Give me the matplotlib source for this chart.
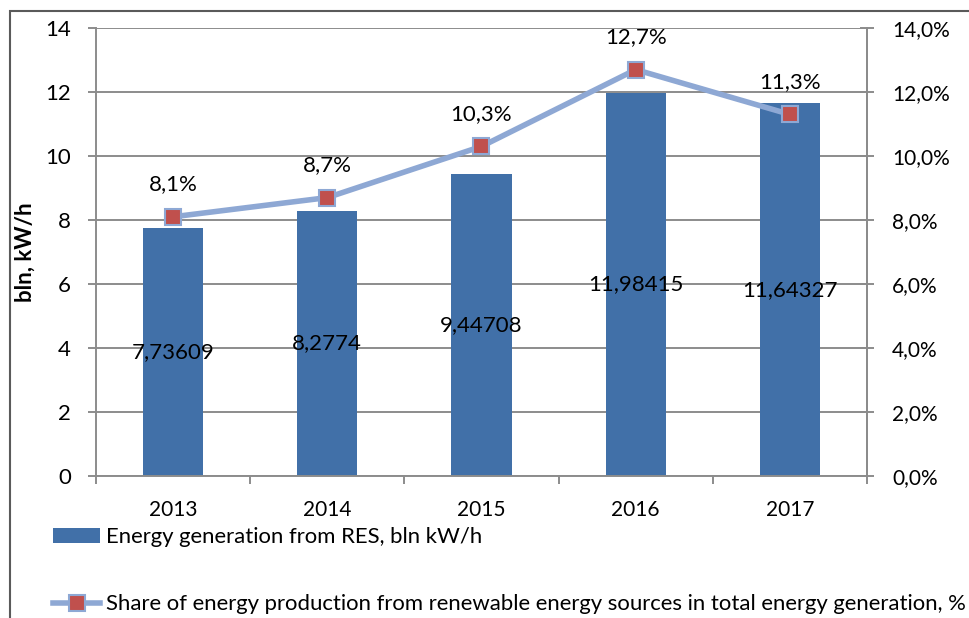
import matplotlib
matplotlib.use("Agg")
import matplotlib.pyplot as plt
from matplotlib.patches import Rectangle
from matplotlib.lines import Line2D

years = ["2013", "2014", "2015", "2016", "2017"]
generation = [7.73609, 8.2774, 9.44708, 11.98415, 11.64327]
gen_labels = ["7,73609", "8,2774", "9,44708", "11,98415", "11,64327"]
share = [8.1, 8.7, 10.3, 12.7, 11.3]
share_labels = ["8,1%", "8,7%", "10,3%", "12,7%", "11,3%"]
left_ticks = [0, 2, 4, 6, 8, 10, 12, 14]
right_tick_labels = ["0,0%", "2,0%", "4,0%", "6,0%", "8,0%", "10,0%", "12,0%", "14,0%"]

plt.rcParams['font.family'] = ['Lato', 'DejaVu Sans']
FS = 16
W, H = 969, 618
fig = plt.figure(figsize=(W / 100, H / 100), dpi=100)
fig.patch.set_facecolor('white')

# outer frame (clipped at right/bottom)
fig.patches.append(Rectangle((10 / W, -0.1), 1.2, (H - 11) / H + 0.1, transform=fig.transFigure,
                             fill=False, edgecolor='#5a5a5a', lw=1.5))

ax = fig.add_axes([96 / W, (H - 476) / H, (867 - 96) / W, (476 - 28) / H])
grid_c = '#8c8c8c'
bar_c = '#4170A8'
line_c = '#8EA8D4'
mark_c = '#C0504D'

x = list(range(len(years)))
ax.bar(x, generation, width=0.39, color=bar_c, zorder=2)
ax.set_xlim(-0.5, len(years) - 0.5)
ax.set_ylim(0, 14)
ax.set_yticks(left_ticks)
ax.set_yticklabels([str(t) for t in left_ticks], fontsize=FS)
ax.yaxis.grid(True, color=grid_c, lw=1.4, zorder=0)
ax.set_axisbelow(True)
ax.set_xticks(x)
ax.set_xticklabels(years, fontsize=15)
ax.tick_params(axis='x', length=0, pad=17)
ax.set_xticks([i + 0.5 for i in range(-1, len(years))], minor=True)
ax.tick_params(axis='x', which='minor', length=6, color=grid_c, width=1.4, direction='out')
ax.tick_params(axis='y', length=6, color=grid_c, width=1.4, pad=12)
ax.spines['top'].set_visible(False)
for s in ['left', 'right', 'bottom']:
    ax.spines[s].set_color(grid_c)
    ax.spines[s].set_linewidth(1.4)
ax.set_ylabel("bln, kW/h", fontsize=FS, fontweight='bold')
ax.yaxis.set_label_coords((36 - 96) / (867 - 96), 0.5)

for xi, v, lab in zip(x, generation, gen_labels):
    ax.text(xi, v / 2, lab, ha='center', va='center', fontsize=FS, color='black', zorder=5)

ax2 = ax.twinx()
ax2.set_ylim(0, 14)
ax2.set_yticks(left_ticks)
ax2.set_yticklabels(right_tick_labels, fontsize=15)
ax2.tick_params(axis='y', length=10, direction='inout', color=grid_c, width=1.4, pad=13)
for s in ['top', 'left', 'bottom']:
    ax2.spines[s].set_visible(False)
ax2.spines['right'].set_color(grid_c)
ax2.spines['right'].set_linewidth(1.4)
ax2.plot(x, share, color=line_c, lw=4, marker='s', markersize=11,
         markerfacecolor=mark_c, markeredgecolor=line_c, markeredgewidth=1.5, zorder=4)
for xi, v, lab in zip(x, share, share_labels):
    ax2.text(xi, v + 0.7, lab, ha='center', va='bottom', fontsize=FS, color='black')

# legend entries
fig.patches.append(Rectangle((53 / W, (H - 543) / H), 47 / W, 15 / H, transform=fig.transFigure,
                             facecolor=bar_c, edgecolor='none'))
fig.text(106 / W, (H - 537) / H, "Energy generation from RES, bln kW/h", fontsize=15.9,
         va='center', ha='left')
fig.add_artist(Line2D([53 / W, 100 / W], [(H - 603) / H] * 2, transform=fig.transFigure,
                      color=line_c, lw=4))
fig.add_artist(Line2D([76.5 / W], [(H - 603) / H], transform=fig.transFigure, marker='s',
                      markersize=11, markerfacecolor=mark_c, markeredgecolor=line_c,
                      markeredgewidth=1.5, lw=0))
fig.text(106 / W, (H - 604) / H,
         "Share of energy production from renewable energy sources in total energy generation, %",
         fontsize=15.9, va='center', ha='left')

fig.savefig("out.png", dpi=100)
